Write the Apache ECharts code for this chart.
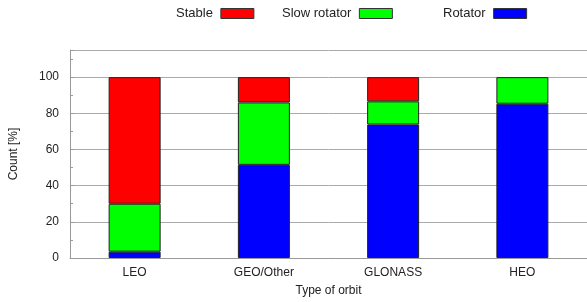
<!DOCTYPE html>
<html>
<head>
<meta charset="utf-8">
<script src="https://cdn.jsdelivr.net/npm/echarts@6/dist/echarts.min.js"></script>
<style>
  html, body { margin: 0; padding: 0; background: #fff; }
  #chart { width: 587px; height: 302px; }
</style>
</head>
<body>
<div id="chart"></div>
<script>
  const categories = ['LEO', 'GEO/Other', 'GLONASS', 'HEO'];
  const rotator = [3.5, 51.5, 73.8, 85.3];
  const slowRotator = [26.5, 34.5, 12.8, 14.7];
  const stable = [70, 14, 13.4, null];
  const yTicks = [0, 20, 40, 60, 80, 100];

  const chart = echarts.init(document.getElementById('chart'));
  const font = 'Liberation Sans, Arial, sans-serif';

  function legendAt(name, left){
    return {
      data: [name],
      top: 2,
      left: left,
      align: 'right',
      itemWidth: 33,
      itemHeight: 10,
      icon: 'rect',
      selectedMode: false,
      textStyle: { fontFamily: font, fontSize: 13, color: '#222', padding: [0, 3, 0, 0] },
      itemStyle: { borderColor: '#333', borderWidth: 1 }
    };
  }

  function bar(name, data, color){
    return {
      name: name,
      type: 'bar',
      stack: 'all',
      data: data,
      barWidth: 52,
      itemStyle: { color: color, borderColor: '#222', borderWidth: 1 },
      emphasis: { disabled: true }
    };
  }

  chart.setOption({
    animation: false,
    textStyle: { fontFamily: font },
    legend: [
      legendAt('Stable', 171),
      legendAt('Slow rotator', 277),
      legendAt('Rotator', 438)
    ],
    grid: { left: 67, right: -3, top: 50, bottom: 42 },
    xAxis: {
      type: 'category',
      data: categories,
      name: 'Type of orbit',
      nameLocation: 'middle',
      nameGap: 27,
      nameTextStyle: { fontSize: 12, color: '#222' },
      axisLine: { lineStyle: { color: '#999' } },
      axisTick: { show: false },
      axisLabel: { fontSize: 12, color: '#222', margin: 9 }
    },
    yAxis: {
      type: 'value',
      min: 0,
      max: 115,
      interval: 20,
      name: 'Count [%]',
      nameLocation: 'middle',
      nameGap: 50,
      nameTextStyle: { fontSize: 12, color: '#222' },
      axisLine: { show: true, lineStyle: { color: '#999' } },
      axisTick: { show: true, inside: true, length: 4, lineStyle: { color: '#999' } },
      minorTick: { show: true, splitNumber: 2, length: 3, lineStyle: { color: '#999' } },
      splitLine: { lineStyle: { color: '#aaa' } },
      axisLabel: {
        fontSize: 12, color: '#222', margin: 11,
        formatter: (v) => (yTicks.indexOf(v) >= 0 ? String(v) : '')
      }
    },
    series: [
      bar('Rotator', rotator, '#0000ff'),
      bar('Slow rotator', slowRotator, '#00ff00'),
      bar('Stable', stable, '#ff0000')
    ]
  });
</script>
</body>
</html>
